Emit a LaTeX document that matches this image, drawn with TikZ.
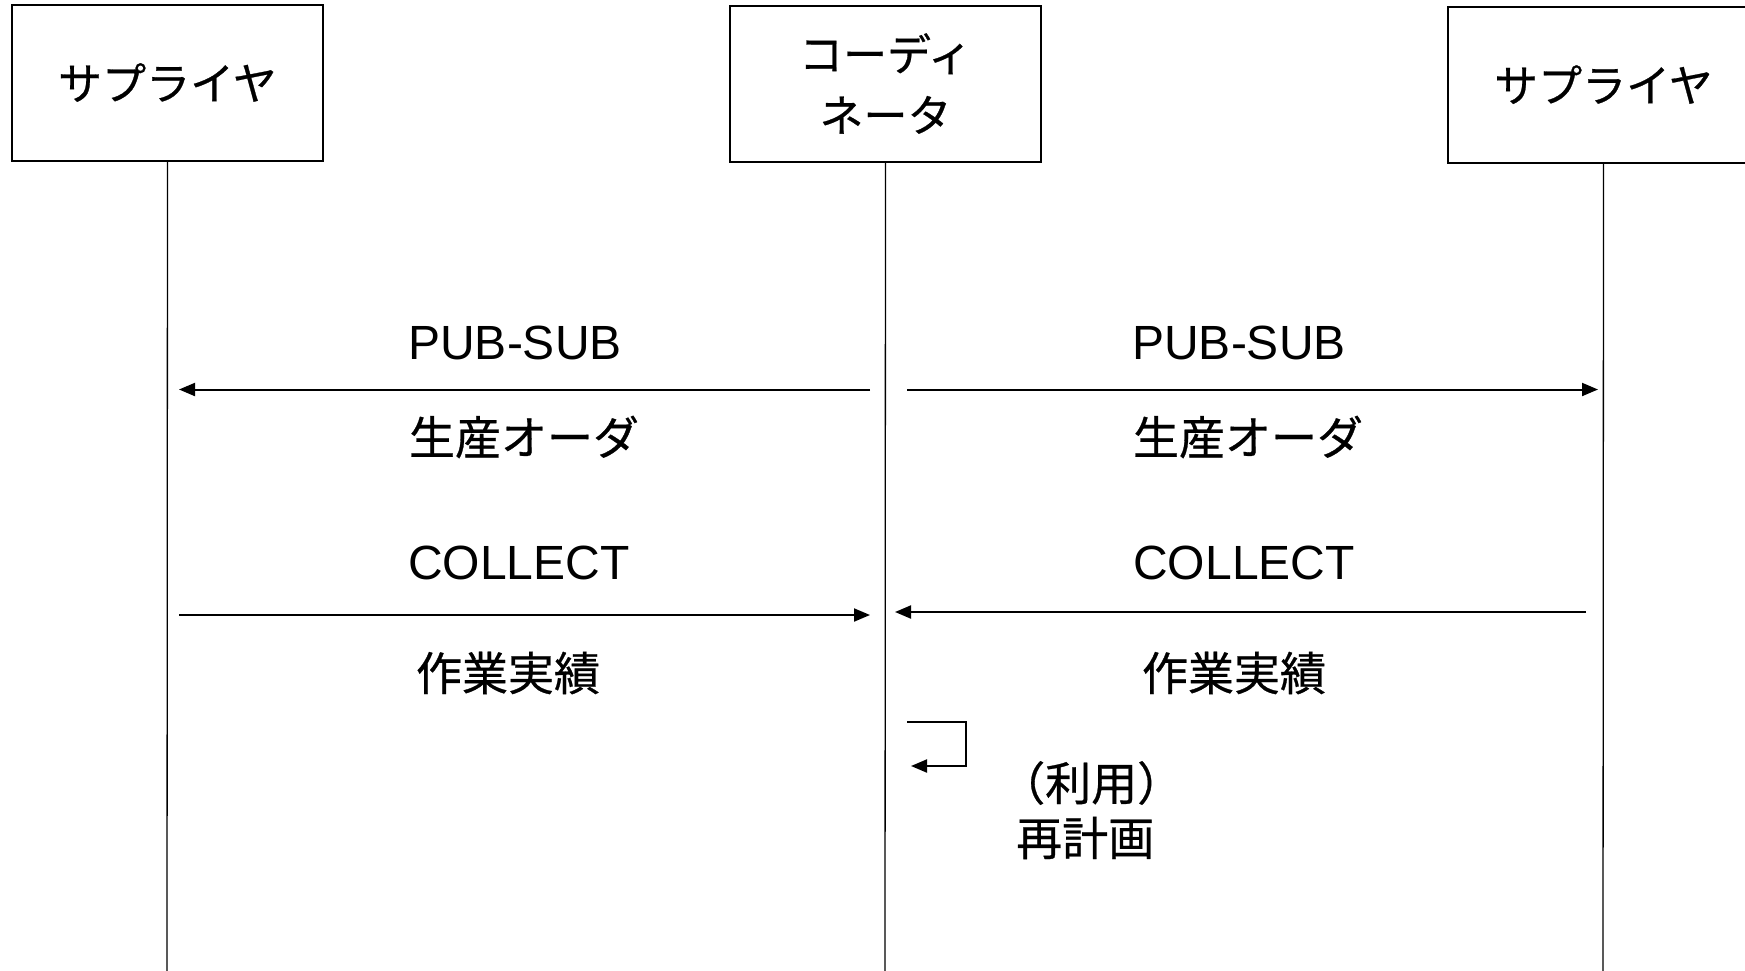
\documentclass[tikz,border=0pt]{standalone}
\usepackage{fontspec}
\setmainfont{Liberation Sans}
\newfontfamily\jp{Noto Sans CJK JP}[FakeBold=0.6]
\usetikzlibrary{arrows.meta}
\tikzset{
  actor/.style={draw, line width=2pt, minimum width=311pt, minimum height=156pt, inner sep=0pt, font=\jp\fontsize{44}{61}\selectfont, align=center},
  life/.style={line width=1.3pt},
  msg/.style={line width=2pt, -{Triangle[length=16pt,width=13pt]}},
  lat/.style={font=\fontsize{48}{52}\selectfont, inner sep=0pt},
  jlab/.style={font=\jp\fontsize{46}{50}\selectfont, inner sep=0pt},
}
\begin{document}
\begin{tikzpicture}[x=1pt,y=-1pt]
\useasboundingbox (0,0) rectangle (1745,970);
\clip (0,0) rectangle (1745,970);
% actors
\node[actor] (s1) at (167.5,82.5) {サプライヤ};
\node[actor] (co) at (885.5,83.5) {コーディ\\ネータ};
\node[actor] (s2) at (1603.5,84.6) {サプライヤ};
% lifeline ends
\coordinate (s1e) at (167,975);
\coordinate (coe) at (885,975);
\coordinate (s2e) at (1603,975);
\draw[life] (s1.south) -- (s1e);
\draw[life] (co.south) -- (coe);
\draw[life] (s2.south) -- (s2e);
% message endpoints
\coordinate (a1s) at (870,389.5);  \coordinate (a1e) at (179,389.5);
\coordinate (a2s) at (907,389.5);  \coordinate (a2e) at (1598,389.5);
\coordinate (a3s) at (179,615);    \coordinate (a3e) at (870,615);
\coordinate (a4s) at (1586,612);   \coordinate (a4e) at (895,612);
\draw[msg] (a1s) -- (a1e);
\draw[msg] (a2s) -- (a2e);
\draw[msg] (a3s) -- (a3e);
\draw[msg] (a4s) -- (a4e);
% self message
\coordinate (r1) at (907,722);
\coordinate (r2) at (911,766);
\draw[msg] (r1) -- (966,722) -- (966,766) -- (r2);
% labels
\node[lat] (l1) at (515,343) {PUB-SUB};
\node[lat] (l2) at (1239,343) {PUB-SUB};
\node[jlab] (l3) at (524,437) {生産オーダ};
\node[jlab] (l4) at (1248,437) {生産オーダ};
\node[lat] (l5) at (519,563) {COLLECT};
\node[lat] (l6) at (1244,563) {COLLECT};
\node[jlab] (l7) at (508,673) {作業実績};
\node[jlab] (l8) at (1234,673) {作業実績};
\node[jlab,anchor=west] (l9) at (999,783) {（利用）};
\node[jlab,anchor=west] (l10) at (1016,838) {再計画};
\end{tikzpicture}
\end{document}
